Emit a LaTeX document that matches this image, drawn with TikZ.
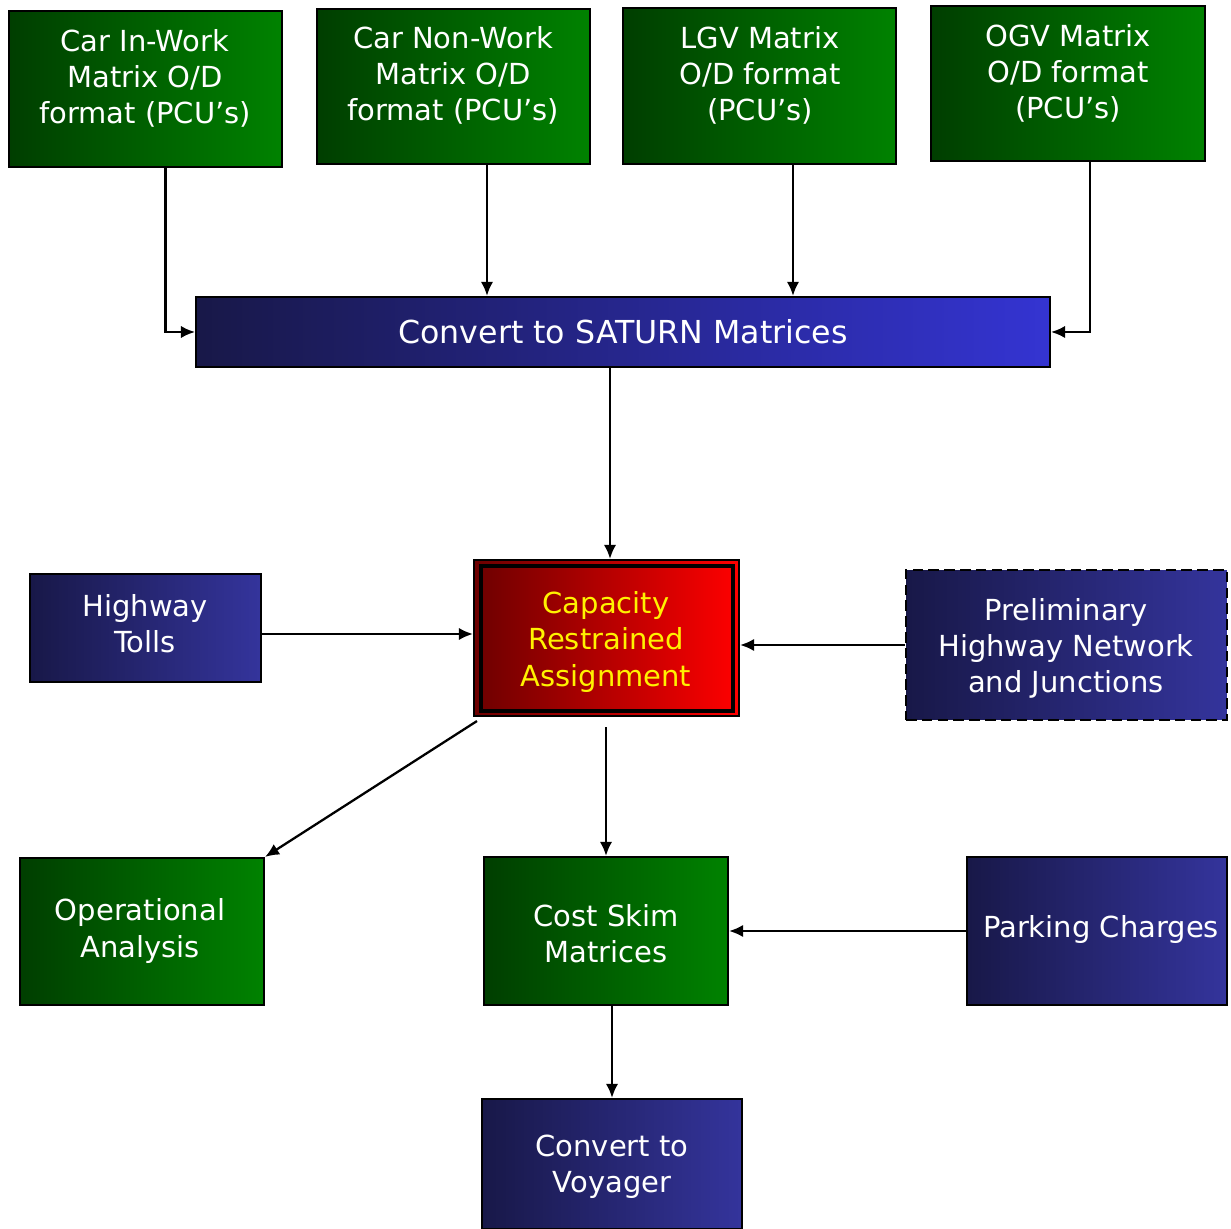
\documentclass[tikz,border=0pt]{standalone}
\usepackage{fontspec}
\setmainfont{DejaVu Sans}
\usetikzlibrary{arrows.meta,positioning}

\definecolor{greendark}{RGB}{0,62,0}
\definecolor{greenlight}{RGB}{0,130,0}
\definecolor{bluedark}{RGB}{24,24,72}
\definecolor{bluelight}{RGB}{52,52,156}
\definecolor{bluebright}{RGB}{52,52,210}
\definecolor{reddark}{RGB}{108,0,0}
\definecolor{redlight}{RGB}{255,0,0}

\begin{document}
\begin{tikzpicture}[x=0.02cm,y=-0.02cm,
    box/.style={rectangle,draw=black,line width=1.2pt,inner sep=0pt},
    greenbox/.style={box,left color=greendark,right color=greenlight},
    bluebox/.style={box,left color=bluedark,right color=bluelight},
    txt/.style={align=center,text=white,font=\fontsize{16.5}{20.5}\selectfont},
    flow/.style={line width=1.3pt,-{Latex[length=8pt,width=7pt]}}]
  \useasboundingbox (0,0) rectangle (1231,1229);                  % page size

  \node[greenbox,minimum width=5.46cm,minimum height=3.12cm] (inwork)  at (145.5,89)  {};  % Input matrices
  \node[greenbox,minimum width=5.46cm,minimum height=3.10cm] (nonwork) at (453.5,86.5) {};
  \node[greenbox,minimum width=5.46cm,minimum height=3.12cm] (lgv)     at (759.5,86)  {};
  \node[greenbox,minimum width=5.48cm,minimum height=3.10cm] (ogv)     at (1068,83.5) {};
  \node[txt] (inworktxt)  at (145,78)  {Car In-Work\\Matrix O/D\\format (PCU’s)};
  \node[txt] (nonworktxt) at (453,75)  {Car Non-Work\\Matrix O/D\\format (PCU’s)};
  \node[txt] (lgvtxt)     at (760,75)  {LGV Matrix\\O/D format\\(PCU’s)};
  \node[txt] (ogvtxt)     at (1068,73) {OGV Matrix\\O/D format\\(PCU’s)};

  \node[box,left color=bluedark,right color=bluebright,minimum width=17.08cm,minimum height=1.40cm,
        txt,font=\fontsize{18}{22}\selectfont] (saturn) at (623,332) {Convert to SATURN Matrices};  % Conversion

  \node[box,left color=reddark,right color=redlight,minimum width=5.30cm,minimum height=3.12cm] (capacity) at (606.5,638) {};
  \draw[line width=2pt] (481,566) rectangle (733,711);          % inner frame
  \node[txt,text=yellow] (capacitytxt) at (606,642) {Capacity\\Restrained\\Assignment};

  \node[bluebox,minimum width=4.62cm,minimum height=2.16cm] (tolls) at (145.5,628) {};
  \node[txt] (tollstxt) at (145,624) {Highway\\Tolls};
  \node[bluebox,dash pattern=on 6pt off 3pt,minimum width=6.42cm,minimum height=3.00cm] (prelim) at (1066.5,645) {};
  \node[txt] (prelimtxt) at (1066,648) {Preliminary\\Highway Network\\and Junctions};

  \node[greenbox,minimum width=4.88cm,minimum height=2.94cm] (oper) at (142,931.5) {};
  \node[txt] (opertxt) at (140,931) {Operational\\Analysis};
  \node[greenbox,minimum width=4.88cm,minimum height=2.96cm] (skim) at (606,931) {};
  \node[txt] (skimtxt) at (606,934) {Cost Skim\\Matrices};
  \node[bluebox,minimum width=5.20cm,minimum height=2.96cm] (parking) at (1097,931) {};
  \node[txt] (parkingtxt) at (1101,929) {Parking Charges};
  \node[bluebox,minimum width=5.20cm,minimum height=2.60cm] (voyager) at (612,1164) {};
  \node[txt] (voyagertxt) at (612,1167) {Convert to\\Voyager};

  \draw[flow] ([xshift=0.40cm]inwork.south) |- (saturn.west);                          % In-work to SATURN
  \draw[flow] ([xshift=0.67cm]nonwork.south) -- ([xshift=0.67cm]nonwork.south |- saturn.north); % Non-work
  \draw[flow] ([xshift=0.67cm]lgv.south) -- ([xshift=0.67cm]lgv.south |- saturn.north);         % LGV
  \draw[flow] ([xshift=0.44cm]ogv.south) |- (saturn.east);                              % OGV
  \draw[flow] ([xshift=0.07cm]capacity.north |- saturn.south) -- ([xshift=0.07cm]capacity.north); % SATURN to assignment
  \draw[flow] ([yshift=-0.12cm]tolls.east) -- ([yshift=-0.12cm]tolls.east -| capacity.west);  % Tolls
  \draw[flow] (prelim.west) -- (prelim.west -| capacity.east);                          % Network
  \draw[flow] ([shift={(0.08cm,-0.08cm)}]capacity.south west) -- (oper.north east);       % Operational
  \draw[flow] ([yshift=-0.2cm]skim.north |- capacity.south) -- (skim.north);            % Skims
  \draw[flow] (parking.west) -- (skim.east);                                            % Parking
  \draw[flow] (skim.south -| voyager.north) -- (voyager.north);                         % Voyager
\end{tikzpicture}
\end{document}
